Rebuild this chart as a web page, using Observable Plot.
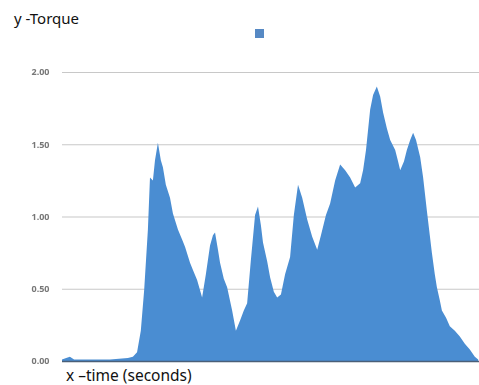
<!DOCTYPE html>
<html>
<head>
<meta charset="utf-8">
<script src="https://cdn.jsdelivr.net/npm/d3@7"></script>
<script src="https://cdn.jsdelivr.net/npm/@observablehq/plot@0.6"></script>
<style>
  html, body { margin: 0; padding: 0; background: #fff; }
  #wrap { position: relative; width: 479px; height: 385px; overflow: hidden; font-family: "Noto Sans", "Open Sans", sans-serif; }
  #title { position: absolute; left: 14px; top: 8px; font-size: 15px; color: #111; }
  #legend { position: absolute; left: 255px; top: 29px; width: 9px; height: 9px; background: #5689c4; filter: blur(0.5px); }
  #chart { position: absolute; left: 0; top: 44px; }
  #caption { position: absolute; left: 66px; top: 364px; font-size: 15.5px; color: #111; }
  #chart svg g[aria-label="y-axis tick label"] { filter: blur(0.6px); }
</style>
</head>
<body>
<div id="wrap">
  <div id="title">y -Torque</div>
  <div id="legend"></div>
  <div id="chart"></div>
  <div id="caption">x –time (seconds)</div>
</div>
<script>
// Torque readings over time
const time = [
  0, 1.0, 1.9, 2.9, 6.7, 11.5, 15.8, 17.0, 18.0, 18.9, 19.7, 20.6, 21.1, 21.8, 22.3, 23.0,
  23.7, 24.2, 24.9, 25.9, 26.6, 27.8, 28.8, 29.5, 30.7, 31.4, 32.4, 33.6, 34.5, 35.5, 36.2,
  36.7, 37.4, 37.9, 38.8, 39.6, 40.8, 41.7, 42.7, 43.6, 44.4, 45.3, 46.3, 47.0, 47.7, 48.2,
  49.2, 49.9, 50.8, 51.6, 52.5, 53.5, 54.7, 55.6, 56.6, 57.6, 58.8, 60.0, 61.2, 62.1, 63.3,
  64.3, 65.5, 66.7, 67.9, 69.1, 70.3, 71.5, 72.2, 72.9, 73.9, 74.6, 75.5, 76.3, 77.0, 77.9,
  78.7, 79.9, 80.6, 81.1, 82.0, 82.7, 83.5, 84.2, 84.9, 85.9, 86.6, 87.5, 88.2, 88.7, 89.4,
  89.9, 90.6, 91.1, 92.1, 93.0, 94.2, 95.4, 96.6, 97.8, 99.0, 99.8
];
const torque = [
  0.01, 0.02, 0.03, 0.01, 0.01, 0.01, 0.02, 0.03, 0.06, 0.21, 0.49, 0.91, 1.27, 1.25, 1.39, 1.51,
  1.39, 1.34, 1.22, 1.13, 1.02, 0.91, 0.84, 0.79, 0.68, 0.63, 0.56, 0.44, 0.60, 0.80, 0.87,
  0.89, 0.77, 0.68, 0.57, 0.51, 0.35, 0.21, 0.28, 0.35, 0.40, 0.70, 1.01, 1.07, 0.94, 0.82,
  0.69, 0.58, 0.48, 0.44, 0.46, 0.60, 0.72, 1.01, 1.22, 1.13, 0.98, 0.86, 0.77, 0.87, 1.01,
  1.09, 1.25, 1.36, 1.32, 1.27, 1.20, 1.23, 1.32, 1.46, 1.74, 1.84, 1.90, 1.83, 1.72, 1.61,
  1.53, 1.46, 1.38, 1.32, 1.38, 1.46, 1.53, 1.58, 1.53, 1.41, 1.27, 1.04, 0.87, 0.75, 0.60,
  0.51, 0.42, 0.35, 0.30, 0.24, 0.21, 0.17, 0.12, 0.08, 0.03, 0.01
];
const yTicks = [0, 0.5, 1, 1.5, 2];

const data = time.map((t, i) => ({time: t, torque: torque[i]}));

const chart = Plot.plot({
  width: 479,
  height: 326,
  marginLeft: 62,
  marginRight: 0,
  marginTop: 28,
  marginBottom: 9,
  style: {fontFamily: "Noto Sans, sans-serif", background: "#fff"},
  x: {domain: [0, 100], axis: null},
  y: {domain: [0, 2], ticks: yTicks, tickFormat: d3.format(".2f"), label: null},
  marks: [
    Plot.gridY(yTicks, {stroke: "#c8c8c8", strokeOpacity: 1, strokeWidth: 1.2}),
    Plot.axisY(yTicks, {tickSize: 0, tickPadding: 13, fontSize: 9, fontWeight: "bold", fill: "#777", tickFormat: d3.format(".2f"), label: null}),
    Plot.areaY(data, {x: "time", y: "torque", fill: "#4a8dd2"}),
    Plot.ruleY([0], {stroke: "#4a5f78", strokeWidth: 1.5})
  ]
});
document.getElementById("chart").appendChild(chart);
</script>
</body>
</html>
